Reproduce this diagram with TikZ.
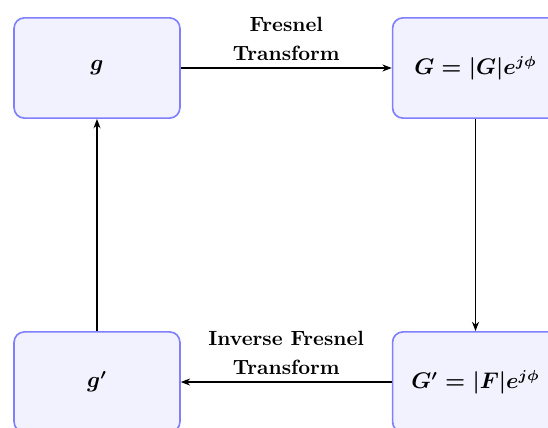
\documentclass[tikz,border=0pt]{standalone}
\usepackage{amsmath,amssymb}
\usepackage{xcolor}
\usetikzlibrary{arrows.meta, positioning}

\begin{document}
\begin{tikzpicture}[
  node distance=3.62cm and 3.6cm,
  box/.style={draw=blue!50, fill=blue!5, thick, rounded corners=5pt,
              align=center, font=\fontsize{10.6}{13}\selectfont\bfseries\boldmath,
              minimum width=2.83cm, minimum height=1.71cm},
  arr/.style={-{Stealth[length=1.6mm]}, semithick},
  lbl/.style={align=center, font=\bfseries, inner sep=3.5pt}
]
  \useasboundingbox (0,0) rectangle (9.35,-7.30);

  \node[box] (g) at (1.655,-1.16) {$g$};
  \node[box, right=of g] (G) {$G = |G|e^{j\phi}$};
  \node[box, below=of G] (Gp) {$G' = |F|e^{j\phi}$};
  \node[box, below=of g] (gp) {$g'$};

  \draw[arr] (g) -- node[lbl, above] {Fresnel\\[2pt]Transform} (G);
  \draw[arr] (G) -- (Gp);
  \draw[arr] (Gp) -- node[lbl, above] {Inverse Fresnel\\[2pt]Transform} (gp);
  \draw[arr] (gp) -- (g);
\end{tikzpicture}
\end{document}
